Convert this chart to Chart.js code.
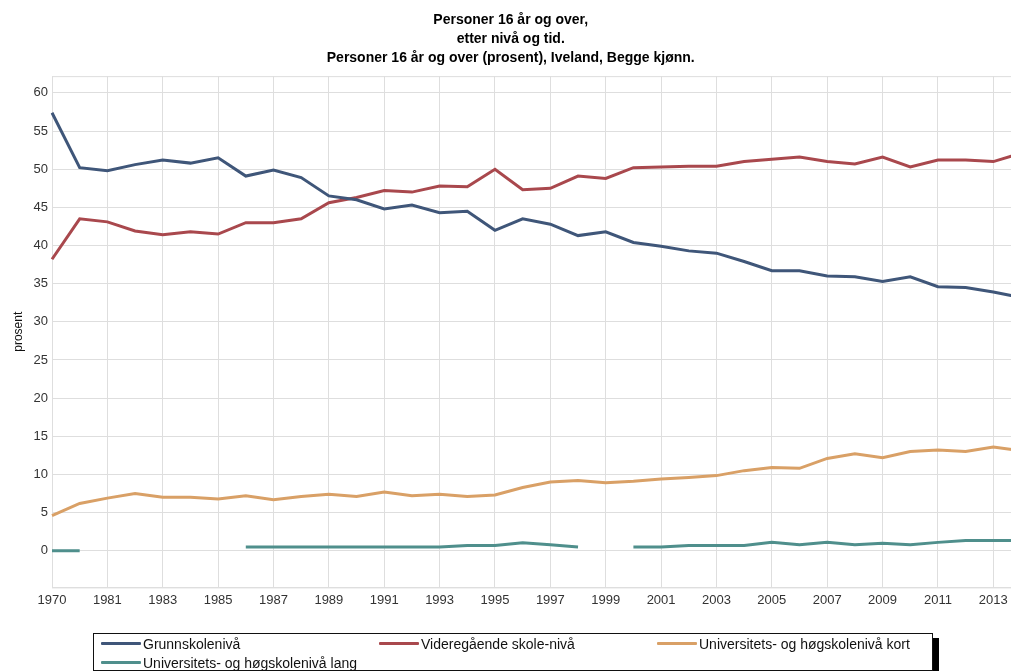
<!DOCTYPE html>
<html>
<head>
<meta charset="utf-8">
<title>Personer 16 år og over, etter nivå og tid</title>
<script src="https://cdn.jsdelivr.net/npm/chart.js@4.4.1/dist/chart.umd.min.js"></script>
<style>
  body { margin: 0; overflow: hidden; background: #fff; font-family: 'Liberation Sans', Arial, sans-serif; }
  #wrap { position: relative; width: 1026px; height: 671px; }
  #legend {
    position: absolute; left: 93px; top: 633px; width: 831px; height: 36px;
    border: 1px solid #111; box-shadow: 6px 5px 0 #000; background: #fff;
    display: grid; grid-template-columns: 278px 278px 275px; grid-auto-rows: 19px;
    padding-left: 7px; box-sizing: content-box;
  }
  .item { display: flex; align-items: center; font-size: 14px; color: #111; white-space: nowrap; }
  .swatch { width: 40px; height: 3px; margin-right: 2px; border-radius: 1px; }
</style>
</head>
<body>
<div id="wrap">
  <canvas id="chart" width="1026" height="671"></canvas>
  <div id="legend"></div>
</div>
<script>
// Years on the x axis (1971-1979 are missing in the source table)
const years = ['1970', '1980', '1981', '1982', '1983', '1984', '1985', '1986', '1987', '1988', '1989', '1990',
  '1991', '1992', '1993', '1994', '1995', '1996', '1997', '1998', '1999', '2000',
  '2001', '2002', '2003', '2004', '2005', '2006', '2007', '2008', '2009', '2010',
  '2011', '2012', '2013', '2014'];

const grunnskole = [57.4, 50.2, 49.8, 50.6, 51.2, 50.8, 51.5, 49.1, 49.9, 48.9, 46.5, 46.0,
  44.8, 45.3, 44.3, 44.5, 42.0, 43.5, 42.8, 41.3, 41.8, 40.4,
  39.9, 39.3, 39.0, 37.9, 36.7, 36.7, 36.0, 35.9, 35.3, 35.9,
  34.6, 34.5, 33.9, 33.2];

const videregaende = [38.2, 43.5, 43.1, 41.9, 41.4, 41.8, 41.5, 43.0, 43.0, 43.5, 45.6, 46.3,
  47.2, 47.0, 47.8, 47.7, 50.0, 47.3, 47.5, 49.1, 48.8, 50.2,
  50.3, 50.4, 50.4, 51.0, 51.3, 51.6, 51.0, 50.7, 51.6, 50.3,
  51.2, 51.2, 51.0, 52.1];

const hoyereKort = [4.6, 6.2, 6.9, 7.5, 7.0, 7.0, 6.8, 7.2, 6.7, 7.1, 7.4, 7.1,
  7.7, 7.2, 7.4, 7.1, 7.3, 8.3, 9.0, 9.2, 8.9, 9.1,
  9.4, 9.6, 9.85, 10.5, 10.9, 10.8, 12.1, 12.7, 12.2, 13.0,
  13.2, 13.0, 13.6, 13.1];

// null = no figure published that year
const hoyereLang = [0, 0, null, null, null, null, null, 0.5, 0.5, 0.5, 0.5, 0.5,
  0.5, 0.5, 0.5, 0.7, 0.7, 1.05, 0.8, 0.5, null, 0.5,
  0.5, 0.7, 0.7, 0.7, 1.1, 0.8, 1.1, 0.8, 1.0, 0.8,
  1.1, 1.35, 1.35, 1.35];

const seriesNames = ['Grunnskolenivå', 'Videregående skole-nivå', 'Universitets- og høgskolenivå kort', 'Universitets- og høgskolenivå lang'];
const seriesColors = ['#3f5679', '#a9484d', '#d9a066', '#4f8f8c'];

const titleLines = ['Personer 16 år og over,', 'etter nivå og tid.', 'Personer 16 år og over (prosent), Iveland, Begge kjønn.'];

const gridColor = '#dedede';

// thin frame round the plot area
const frame = {
  id: 'frame',
  beforeDatasetsDraw(chart) {
    const a = chart.chartArea;
    const ctx = chart.ctx;
    ctx.save();
    ctx.strokeStyle = gridColor;
    ctx.lineWidth = 1;
    ctx.strokeRect(a.left + 0.5, a.top + 0.5, a.right - a.left, a.bottom - a.top);
    ctx.restore();
  }
};

function makeDataset(name, values, color) {
  return {
    label: name,
    data: values,
    borderColor: color,
    backgroundColor: color,
    borderWidth: 3,
    pointRadius: 0,
    pointHoverRadius: 0,
    tension: 0,
    spanGaps: false,
    fill: false
  };
}

const allValues = [grunnskole, videregaende, hoyereKort, hoyereLang];

const chart = new Chart(document.getElementById('chart'), {
  type: 'line',
  data: {
    labels: years,
    datasets: allValues.map((v, i) => makeDataset(seriesNames[i], v, seriesColors[i]))
  },
  plugins: [frame],
  options: {
    responsive: false,
    animation: false,
    layout: { padding: { left: 0, right: 4.5, top: 0, bottom: 58 } },
    scales: {
      x: {
        ticks: {
          autoSkip: false,
          maxRotation: 0,
          padding: 5,
          color: '#333',
          font: { family: 'Liberation Sans', size: 13 },
          callback: (val, i) => (i % 2 === 0 ? years[i] : '')
        },
        grid: {
          drawTicks: false,
          color: ctx => (ctx.index % 2 === 0 ? gridColor : 'rgba(0,0,0,0)')
        },
        border: { color: gridColor }
      },
      y: {
        min: -4.8,
        max: 62.2,
        ticks: {
          stepSize: 5,
          padding: 4,
          color: '#333',
          font: { family: 'Liberation Sans', size: 13 }
        },
        afterBuildTicks: scale => {
          scale.ticks = scale.ticks.filter(t => t.value >= 0 && t.value <= 60 && Math.abs(t.value % 5) < 1e-6);
        },
        afterFit: scale => { scale.width = 52; },
        grid: { drawTicks: false, color: gridColor },
        border: { color: gridColor },
        title: {
          display: true,
          text: 'prosent',
          color: '#111',
          font: { family: 'Liberation Sans', size: 12 },
          padding: { top: 11, bottom: 0 }
        }
      }
    },
    plugins: {
      legend: { display: false },
      tooltip: { enabled: false },
      title: {
        display: true,
        text: titleLines,
        color: '#000',
        font: { family: 'Liberation Sans', size: 14, weight: 'bold', lineHeight: 1.36 },
        padding: { top: 10.5, bottom: 8.5 }
      }
    }
  }
});

// Build the boxed legend under the chart from the datasets
function buildLegend(chart) {
  const box = document.getElementById('legend');
  chart.data.datasets.forEach(ds => {
    const item = document.createElement('div');
    item.className = 'item';
    const sw = document.createElement('span');
    sw.className = 'swatch';
    sw.style.background = ds.borderColor;
    const txt = document.createElement('span');
    txt.textContent = ds.label;
    item.appendChild(sw);
    item.appendChild(txt);
    box.appendChild(item);
  });
}

buildLegend(chart);
</script>
</body>
</html>
